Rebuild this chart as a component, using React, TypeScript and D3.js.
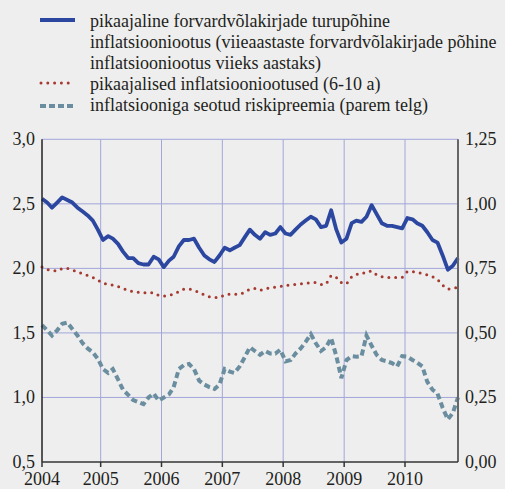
import * as d3 from "d3";
import React from "react";

// monthly observations, Jan 2004 .. Nov 2010
const months: Date[] = d3.timeMonth.range(new Date(2004, 0, 1), new Date(2010, 11, 1)).map((m) => new Date(m.getFullYear(), m.getMonth(), 15));

// pikaajaline forvardvõlakirjade turupõhine inflatsiooniootus (left axis)
const marketExp = [
  2.54, 2.51, 2.47, 2.51, 2.55, 2.53, 2.51, 2.47, 2.44, 2.41, 2.37, 2.3,
  2.22, 2.25, 2.23, 2.19, 2.13, 2.08, 2.08, 2.04, 2.03, 2.03, 2.09, 2.07,
  2.01, 2.06, 2.09, 2.17, 2.22, 2.22, 2.23, 2.16, 2.1, 2.07, 2.05, 2.1,
  2.16, 2.14, 2.16, 2.18, 2.24, 2.3, 2.26, 2.23, 2.28, 2.26, 2.27, 2.32,
  2.27, 2.26, 2.3, 2.34, 2.37, 2.4, 2.38, 2.32, 2.33, 2.45, 2.3, 2.2,
  2.23, 2.35, 2.37, 2.36, 2.4, 2.49, 2.42, 2.35, 2.33, 2.33, 2.32, 2.31,
  2.39, 2.38, 2.35, 2.33, 2.28, 2.22, 2.2, 2.1, 1.99, 2.02, 2.08,
];

// pikaajalised inflatsiooniootused (6-10 a) (left axis)
const longTermExp = [
  2.01, 1.99, 1.985, 1.98, 2.0, 2.0, 1.99, 1.97, 1.96, 1.945, 1.93, 1.91,
  1.885, 1.875, 1.87, 1.86, 1.845, 1.83, 1.82, 1.815, 1.81, 1.815, 1.81, 1.79,
  1.785, 1.79, 1.8, 1.82, 1.84, 1.84, 1.83, 1.815, 1.795, 1.78, 1.775, 1.775,
  1.795, 1.8, 1.8, 1.8, 1.815, 1.84, 1.845, 1.83, 1.84, 1.85, 1.855, 1.86,
  1.87, 1.87, 1.875, 1.88, 1.885, 1.89, 1.89, 1.875, 1.88, 1.945, 1.93, 1.89,
  1.88, 1.935, 1.955, 1.955, 1.975, 1.98, 1.95, 1.935, 1.93, 1.93, 1.93, 1.93,
  1.975, 1.975, 1.97, 1.96, 1.95, 1.935, 1.915, 1.87, 1.84, 1.845, 1.855,
];

// inflatsiooniga seotud riskipreemia (right axis)
const riskPremium = [
  0.53, 0.51, 0.49, 0.51, 0.535, 0.54, 0.515, 0.49, 0.46, 0.44, 0.425, 0.4,
  0.36, 0.345, 0.36, 0.32, 0.28, 0.26, 0.24, 0.232, 0.224, 0.25, 0.265, 0.238,
  0.25, 0.262, 0.29, 0.36, 0.375, 0.38, 0.36, 0.315, 0.3, 0.29, 0.283, 0.3,
  0.36, 0.35, 0.345, 0.37, 0.405, 0.445, 0.43, 0.415, 0.43, 0.42, 0.42, 0.435,
  0.39, 0.395, 0.42, 0.44, 0.465, 0.495, 0.46, 0.43, 0.445, 0.48, 0.41, 0.325,
  0.395, 0.41, 0.408, 0.41, 0.49, 0.45, 0.415, 0.395, 0.39, 0.383, 0.37, 0.41,
  0.408, 0.395, 0.385, 0.37, 0.31, 0.28, 0.265, 0.21, 0.165, 0.19, 0.25,
];

const leftTicks = [0.5, 1.0, 1.5, 2.0, 2.5, 3.0];
const rightTicks = [0, 0.25, 0.5, 0.75, 1.0, 1.25];
const years = [2004, 2005, 2006, 2007, 2008, 2009, 2010];

const legendLines = [
  "pikaajaline forvardvõlakirjade turupõhine",
  "inflatsiooniootus (viieaastaste forvardvõlakirjade põhine",
  "inflatsiooniootus viieks aastaks)",
  "pikaajalised inflatsiooniootused (6-10 a)",
  "inflatsiooniga seotud riskipreemia (parem telg)",
];
const legendBaselines = [27, 48, 69, 90, 111];

const W = 505;
const H = 489;
const left = 42;
const right = 458;
const top = 139.3;
const bottom = 462;

const blue = "#2c47a0";
const red = "#a63a30";
const teal = "#6a8e9f";
const grid = "#a2a6da";
const ink = "#231f20";
const txt: React.CSSProperties = { fontFamily: "Liberation Serif", fontSize: "18px" };

const fmt = (v: number, d: number) => v.toFixed(d).replace(".", ",");

export default function App() {
  const x = d3.scaleTime().domain([months[0], months[months.length - 1]]).range([left, right]);
  const yL = d3.scaleLinear().domain([0.5, 3.0]).range([bottom, top]);
  const yR = d3.scaleLinear().domain([0, 1.25]).range([bottom, top]);

  const lineL = d3.line<number>().x((_, i) => x(months[i])).y((d) => yL(d));
  const lineR = d3.line<number>().x((_, i) => x(months[i])).y((d) => yR(d));

  const yearX = (yr: number) => Math.max(left, x(new Date(yr, 0, 1)));

  return (
    <svg width={W} height={H} style={{ position: "absolute", left: 0, top: 0, background: "#eeeeee" }}>
      <rect width={W} height={H} fill="#eeeeee" />

      {/* legend */}
      <line x1={40} x2={75} y1={20} y2={20} stroke={blue} strokeWidth={4} />
      <line x1={41} x2={75} y1={83} y2={83} stroke={red} strokeWidth={3} strokeLinecap="round" strokeDasharray="0 6.8" />
      <line x1={40} x2={75} y1={106} y2={106} stroke={teal} strokeWidth={4} strokeDasharray="6 3" />
      {legendLines.map((t, i) => (
        <text key={i} x={90} y={legendBaselines[i]} style={txt} fill={ink}>
          {t}
        </text>
      ))}

      {/* grid */}
      {leftTicks.slice(1).map((v) => (
        <line key={"h" + v} x1={left} x2={right} y1={yL(v)} y2={yL(v)} stroke={grid} strokeWidth={1} />
      ))}
      {years.slice(1).map((yr) => (
        <line key={"v" + yr} x1={yearX(yr)} x2={yearX(yr)} y1={top} y2={bottom} stroke={grid} strokeWidth={1} />
      ))}

      {/* series */}
      <path d={lineR(riskPremium) ?? ""} fill="none" stroke={teal} strokeWidth={4} strokeDasharray="6 3.5" />
      <path d={lineL(longTermExp) ?? ""} fill="none" stroke={red} strokeWidth={3} strokeLinecap="round" strokeDasharray="0 6.8" />
      <path d={lineL(marketExp) ?? ""} fill="none" stroke={blue} strokeWidth={3.8} strokeLinejoin="round" />

      {/* axes */}
      <line x1={left} x2={left} y1={top} y2={bottom} stroke="#222" strokeWidth={1.5} />
      <line x1={right} x2={right} y1={top} y2={bottom} stroke="#666" strokeWidth={2} />
      <line x1={left} x2={right} y1={bottom} y2={bottom} stroke="#333" strokeWidth={1.5} />
      {years.map((yr) => (
        <line key={"t" + yr} x1={yearX(yr)} x2={yearX(yr)} y1={bottom} y2={bottom + 5} stroke="#333" strokeWidth={1.5} />
      ))}

      {leftTicks.map((v) => (
        <text key={"l" + v} x={35} y={yL(v) + 6} textAnchor="end" style={txt} fill={ink}>
          {fmt(v, 1)}
        </text>
      ))}
      {rightTicks.map((v) => (
        <text key={"r" + v} x={465} y={yR(v) + 6} style={txt} fill={ink}>
          {fmt(v, 2)}
        </text>
      ))}
      {years.map((yr) => (
        <text key={"y" + yr} x={yearX(yr)} y={485} textAnchor="middle" style={txt} fill={ink}>
          {yr}
        </text>
      ))}
    </svg>
  );
}
